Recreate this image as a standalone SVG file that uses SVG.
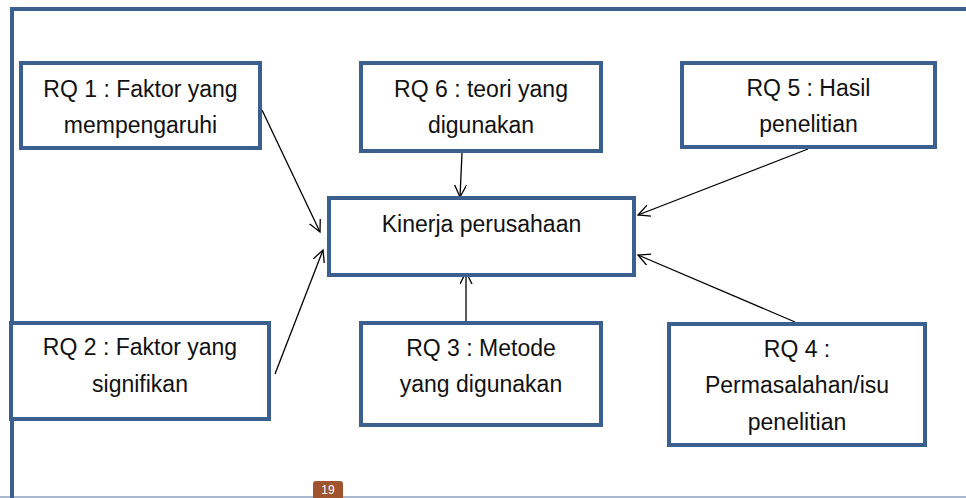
<svg xmlns="http://www.w3.org/2000/svg" width="966" height="498" viewBox="0 0 966 498">
<style>
.box{fill:#fff;stroke:#3b5f8f;stroke-width:4}
.t{font-family:"Liberation Sans",Arial,sans-serif;font-size:23px;fill:#111;text-anchor:middle}
.c{stroke:#000;stroke-width:1.3;fill:none;marker-end:url(#ah)}
</style>
<defs>
<marker id="ah" markerUnits="userSpaceOnUse" markerWidth="14" markerHeight="14" refX="12" refY="6" orient="auto">
<path d="M0,0 L12,6 L0,12" fill="none" stroke="#000" stroke-width="1.3"/>
</marker>
</defs>
<rect width="966" height="498" fill="#fff"/>
<g id="frame">
<line x1="0" y1="497" x2="966" y2="497" stroke="#a9b8cc" stroke-width="2"/>
<line x1="10" y1="9" x2="966" y2="9" stroke="#3b5f8f" stroke-width="4"/>
<line x1="12" y1="7" x2="12" y2="498" stroke="#3b5f8f" stroke-width="4"/>
</g>
<g id="connectors">
<line class="c" x1="262" y1="110" x2="320" y2="232"/>
<line class="c" x1="462" y1="153" x2="460" y2="197"/>
<line class="c" x1="808" y1="149" x2="638" y2="215"/>
<line class="c" x1="795" y1="322" x2="638" y2="255"/>
<line class="c" x1="466" y1="321" x2="466" y2="272"/>
<line class="c" x1="275" y1="374" x2="323" y2="250"/>
</g>
<g id="rq1"><rect class="box" x="21" y="63" width="239" height="85"/><text class="t" x="140.5" y="97">RQ 1 : Faktor yang</text><text class="t" x="140.5" y="133">mempengaruhi</text></g>
<g id="rq6"><rect class="box" x="361" y="63" width="240" height="88"/><text class="t" x="481" y="97">RQ 6 : teori yang</text><text class="t" x="481" y="133">digunakan</text></g>
<g id="rq5"><rect class="box" x="682" y="63" width="253" height="84"/><text class="t" x="808.5" y="96">RQ 5 : Hasil</text><text class="t" x="808.5" y="132">penelitian</text></g>
<g id="kinerja"><rect class="box" x="329" y="198" width="305" height="77"/><text class="t" x="481.5" y="232">Kinerja perusahaan</text></g>
<g id="rq2"><rect class="box" x="11" y="323" width="258" height="96"/><text class="t" x="140" y="355">RQ 2 : Faktor yang</text><text class="t" x="140" y="392">signifikan</text></g>
<g id="rq3"><rect class="box" x="361" y="323" width="240" height="102"/><text class="t" x="481" y="356">RQ 3 : Metode</text><text class="t" x="481" y="392">yang digunakan</text></g>
<g id="rq4"><rect class="box" x="669" y="324" width="256" height="121"/><text class="t" x="797" y="357">RQ 4 :</text><text class="t" x="797" y="393">Permasalahan/isu</text><text class="t" x="797" y="430">penelitian</text></g>
<g id="page">
<path d="M313,498 V484 Q313,481 316,481 H340 Q343,481 343,484 V498 Z" fill="#a0532f"/>
<text x="328" y="494" font-family="Liberation Sans,Arial,sans-serif" font-size="12" fill="#fff" text-anchor="middle">19</text>
</g>
</svg>
